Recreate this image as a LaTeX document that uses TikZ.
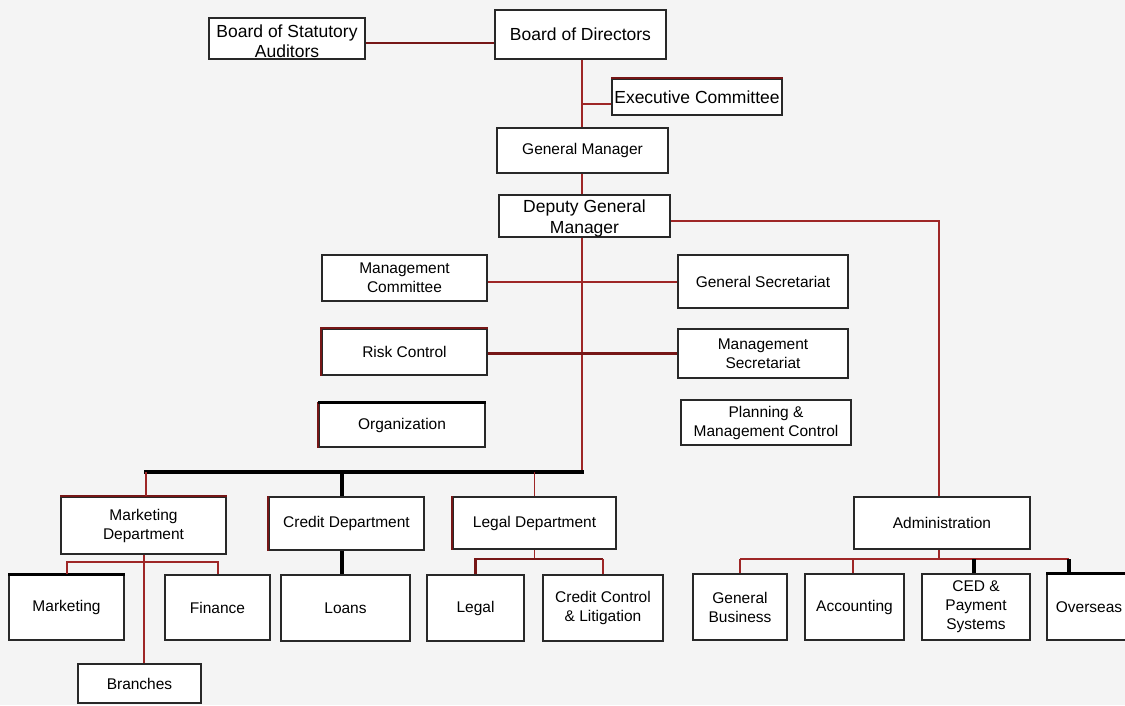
\documentclass[tikz,border=0pt]{standalone}
\usepackage{fontspec}
\setmainfont{Liberation Sans}
% set a block of centred lines a little lower without changing its extent
\newcommand{\lowtext}[2]{\raisebox{-#1}[\height][\depth]{\begin{tabular}{@{}c@{}}#2\end{tabular}}}
\begin{document}
\definecolor{bgcol}{RGB}{244,244,244}
\definecolor{linered}{RGB}{158,38,38}
\definecolor{linedark}{RGB}{118,22,22}
\definecolor{boxline}{RGB}{40,40,40}
\begin{tikzpicture}[x=1pt,y=-1pt,
  box/.style={draw=boxline,line width=1.1pt,fill=white,rectangle,inner sep=2pt,
    align=center,font=\fontsize{15.5}{19}\selectfont},
  bigbox/.style={box,font=\fontsize{17.5}{20.5}\selectfont},
  thinred/.style={draw=linered,line width=1.6pt},
  midred/.style={draw=linered,line width=2pt},
  thickred/.style={draw=linedark,line width=2.8pt},
  thickblack/.style={draw=black,line width=4pt},
  rededge/.style={draw=linedark,line width=2pt},
  blackedge/.style={draw=black,line width=2.6pt}]
% canvas
\useasboundingbox (0,0) rectangle (1125,705);
\fill[bgcol] (0,0) rectangle (1125,705);
\clip (0,0) rectangle (1125,705);

% reference lines for the trunk and the bus rows
\coordinate (tx) at (582,0);
\coordinate (mcrow) at (0,282);
\coordinate (bus) at (146,472);
\coordinate (busend) at (582,472);
\coordinate (mdb) at (0,562);
\coordinate (ldb) at (0,559);
\coordinate (admb) at (0,559);
\coordinate (admx) at (939,0);
\coordinate (ovsx) at (1069,0);

% boxes: top of the hierarchy
\node[bigbox,minimum width=156,minimum height=41,inner sep=0pt] (bsa) at (287,38.5) {\lowtext{5pt}{Board of Statutory\\Auditors}};
\node[bigbox,minimum width=171,minimum height=49] (bod) at (580.5,34.5) {Board of Directors};
\node[bigbox,minimum width=170,minimum height=36,inner sep=0pt] (exec) at (697,97) {\lowtext{2pt}{Executive Committee}};
\node[box,minimum width=171,minimum height=45] (gm) at (582.5,150.5) {General Manager};
\node[bigbox,minimum width=171,minimum height=42,inner sep=0pt] (dgm) at (584.5,216) {\lowtext{3pt}{Deputy General\\Manager}};

% staff units
\node[box,minimum width=165,minimum height=46] (mc) at (404.5,278) {Management\\Committee};
\node[box,minimum width=170,minimum height=53] (gs) at (763,281.5) {General Secretariat};
\node[box,minimum width=165,minimum height=46] (rc) at (404.5,352) {Risk Control};
\node[box,minimum width=170,minimum height=49] (ms) at (763,353.5) {Management\\Secretariat};
\node[box,minimum width=166,minimum height=44] (org) at (402,425) {Organization};
\node[box,minimum width=170,minimum height=45] (pmc) at (766,422.5) {Planning \&\\Management Control};

% departments
\node[box,minimum width=165,minimum height=57] (md) at (143.5,525.5) {Marketing\\Department};
\node[box,minimum width=155,minimum height=53] (cd) at (346.5,523.5) {Credit Department};
\node[box,minimum width=163,minimum height=52] (ld) at (534.5,523) {Legal Department};
\node[box,minimum width=176,minimum height=52] (adm) at (942,523) {Administration};

% sections
\node[box,minimum width=115,minimum height=65] (mkt) at (66.5,607.5) {Marketing};
\node[box,minimum width=105,minimum height=65] (fin) at (217.5,607.5) {Finance};
\node[box,minimum width=129,minimum height=66] (loans) at (345.5,608) {Loans};
\node[box,minimum width=97,minimum height=66] (legal) at (475.5,608) {Legal};
\node[box,minimum width=120,minimum height=66] (ccl) at (603,608) {Credit Control\\\& Litigation};
\node[box,minimum width=94,minimum height=66] (gb) at (740,607) {General\\Business};
\node[box,minimum width=99,minimum height=66] (acc) at (854.5,607) {Accounting};
\node[box,minimum width=108,minimum height=66] (ced) at (976,607) {CED \&\\Payment\\Systems};
\node[box,minimum width=88,minimum height=66,text width=80pt] (ovs) at (1091,607) {\hspace*{-4pt}Overseas};
\node[box,minimum width=123,minimum height=39] (br) at (139.5,683.5) {Branches};

% emphasised box edges
\draw[rededge] (rc.south west) -- (rc.north west) -- (rc.north east);
\draw[rededge] (org.south west) -- (org.north west);
\draw[blackedge] (org.north west) -- (org.north east);
\draw[rededge] (exec.north west) -- (exec.north east);
\draw[rededge] (md.north west) -- (md.north east);
\draw[rededge] (cd.south west) -- (cd.north west);
\draw[rededge] (ld.south west) -- (ld.north west);
\draw[blackedge] (mkt.north west) -- (mkt.north east);
\draw[blackedge] (ovs.north west) -- (ovs.north east);

% top connectors
\draw[thickred] ([yshift=-4.5pt]bsa.east) -- ([yshift=-4.5pt]bsa.east -| bod.west);
\draw[midred] (bod.south -| tx) -- (gm.north -| tx);
\draw[midred] ([yshift=-7pt]exec.west) -- ([yshift=-7pt]exec.west -| tx);
\draw[midred] (gm.south -| tx) -- (dgm.north -| tx);
\draw[thinred] ([yshift=-5pt]dgm.east) -| (adm.north -| admx);
\draw[thinred] (dgm.south -| tx) -- (busend);

% staff connectors
\draw[thinred] (mc.east |- mcrow) -- (gs.west |- mcrow);
\draw[thickred] (rc.east |- ms.west) -- (ms.west);

% department bus
\draw[thickblack,line cap=rect] (bus) -- (busend);
\draw[thinred] (bus) -- (bus |- md.north);
\draw[thickblack] (cd.north -| 342,0) -- (bus -| 342,0);
\draw[thinred] (ld.north) -- (ld.north |- bus);

% marketing sections
\draw[midred] (mkt.north) -- (mkt.north |- mdb) -- (fin.north |- mdb) -- (fin.north);
\draw[midred] (md.south) -- (md.south |- br.north);

% credit sections
\draw[thickblack] (cd.south -| 342,0) -- (loans.north -| 342,0);

% legal sections
\draw[thinred] (ld.south) -- (ld.south |- ldb);
\draw[thickred] (legal.north) -- (legal.north |- ldb) -- (ccl.north |- ldb);
\draw[thinred] (ccl.north |- ldb) -- (ccl.north);

% administration sections
\draw[thinred] (adm.south -| admx) -- (admx |- admb);
\draw[midred] (gb.north |- admb) -- (ovsx |- admb);
\draw[thinred] (gb.north) -- (gb.north |- admb);
\draw[thinred] (acc.north -| 853,0) -- (admb -| 853,0);
\draw[thickblack,line width=3.2pt] (ced.north -| 974,0) -- (admb -| 974,0);
\draw[thickblack,line width=3.2pt] (ovs.north -| ovsx) -- (admb -| ovsx);
\end{tikzpicture}
\end{document}
